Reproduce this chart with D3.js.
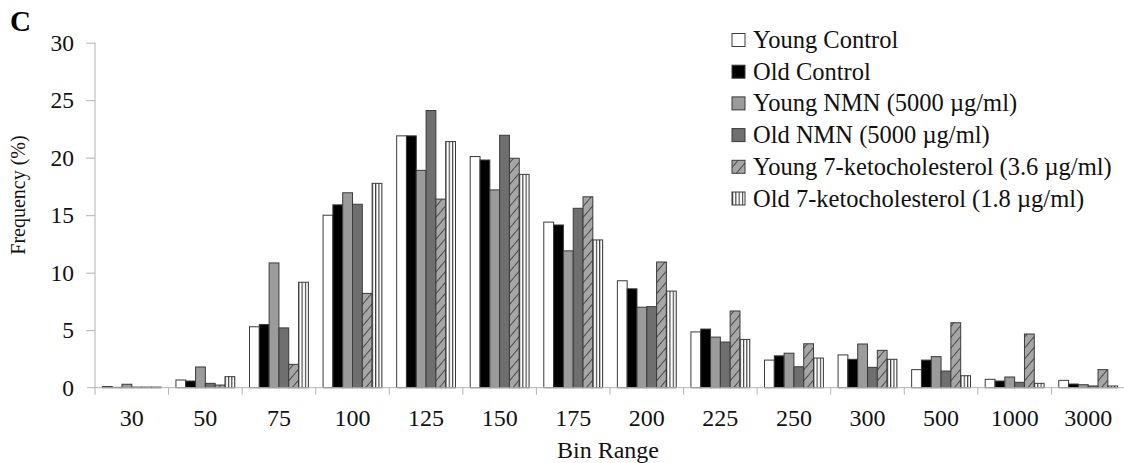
<!DOCTYPE html>
<html lang="en">
<meta charset="utf-8">
<head>
    <title>Bin Range Frequency</title>
    <script src="https://cdn.jsdelivr.net/npm/d3@7"></script>
    <style>
        body { margin: 0; background: #fff; }
        svg { display: block; font-family: "Liberation Serif", "DejaVu Serif", serif; }
        .axis line, .axis path { stroke: #b3b3b3; }
        .axis text { font-family: "Liberation Serif", serif; }
    </style>
</head>
<body>
<script>
    // Data
    const bins = ["30", "50", "75", "100", "125", "150", "175", "200", "225", "250", "300", "500", "1000", "3000"];
    const seriesNames = [
        "Young Control",
        "Old Control",
        "Young NMN (5000 µg/ml)",
        "Old NMN (5000 µg/ml)",
        "Young 7-ketocholesterol (3.6 µg/ml)",
        "Old 7-ketocholesterol (1.8 µg/ml)"
    ];
    const youngControl = [0.1, 0.67, 5.3, 15.0, 21.9, 20.1, 14.4, 9.3, 4.85, 2.4, 2.85, 1.57, 0.73, 0.64];
    const oldControl   = [0.03, 0.58, 5.5, 15.9, 21.9, 19.8, 14.15, 8.6, 5.1, 2.77, 2.47, 2.4, 0.58, 0.32];
    const youngNMN     = [0.3, 1.8, 10.85, 16.95, 18.9, 17.2, 11.9, 7.0, 4.4, 3.0, 3.8, 2.7, 0.93, 0.26];
    const oldNMN       = [0.05, 0.38, 5.2, 15.95, 24.1, 21.95, 15.6, 7.05, 3.97, 1.82, 1.77, 1.45, 0.47, 0.15];
    const young7k      = [0.05, 0.23, 2.03, 8.2, 16.4, 19.95, 16.6, 10.93, 6.67, 3.82, 3.25, 5.65, 4.67, 1.57];
    const old7k        = [0.05, 0.96, 9.17, 17.77, 21.4, 18.55, 12.85, 8.4, 4.2, 2.58, 2.47, 1.04, 0.38, 0.15];
    const yTicks = [0, 5, 10, 15, 20, 25, 30];

    const seriesValues = [youngControl, oldControl, youngNMN, oldNMN, young7k, old7k];
    const fills = ["#ffffff", "#000000", "#9b9b9b", "#6f6f6f", "url(#hatchDiag)", "url(#hatchVert)"];

    const W = 1124, H = 463;
    const plot = { left: 95, right: 1125, top: 42.7, bottom: 387.7 };

    const svg = d3.select("body").append("svg")
        .attr("width", W)
        .attr("height", H);

    // patterns
    const defs = svg.append("defs");
    const diag = defs.append("pattern")
        .attr("id", "hatchDiag")
        .attr("patternUnits", "userSpaceOnUse")
        .attr("width", 7).attr("height", 7)
        .attr("patternTransform", "rotate(40)");
    diag.append("rect").attr("width", 7).attr("height", 7).attr("fill", "#a6a6a6");
    diag.append("line").attr("x1", 0).attr("y1", 0).attr("x2", 0).attr("y2", 7)
        .attr("stroke", "#222").attr("stroke-width", 1.4);

    const vert = defs.append("pattern")
        .attr("id", "hatchVert")
        .attr("patternUnits", "userSpaceOnUse")
        .attr("width", 3.3).attr("height", 10);
    vert.append("rect").attr("width", 3.3).attr("height", 10).attr("fill", "#fff");
    vert.append("line").attr("x1", 0.6).attr("y1", 0).attr("x2", 0.6).attr("y2", 10)
        .attr("stroke", "#222").attr("stroke-width", 1);

    // scales
    const x = d3.scaleBand().domain(bins).range([plot.left, plot.right]).padding(0);
    const xs = d3.scaleBand().domain(d3.range(seriesNames.length))
        .range([0, x.bandwidth()]).paddingInner(0).paddingOuter(0.75);
    const y = d3.scaleLinear().domain([0, 30]).range([plot.bottom, plot.top]);

    // y axis
    const yAxis = svg.append("g")
        .attr("class", "axis")
        .attr("transform", `translate(${plot.left},0)`)
        .call(d3.axisLeft(y).tickValues(yTicks).tickSize(9).tickPadding(12));
    yAxis.attr("font-size", null).attr("font-family", null);
    yAxis.select(".domain").attr("stroke", "#b3b3b3").attr("d", `M0,${plot.top}V${plot.bottom}`);
    yAxis.selectAll("text")
        .style("font-size", "23.5px")
        .attr("fill", "#111");
    yAxis.selectAll(".tick").filter(d => d === 0).select("line").remove();

    // bars
    const groups = svg.append("g").selectAll("g")
        .data(bins)
        .join("g")
        .attr("transform", d => `translate(${x(d)},0)`);

    groups.selectAll("rect")
        .data((b, i) => seriesValues.map((vals, s) => ({ s, v: vals[i] })))
        .join("rect")
        .attr("x", d => xs(d.s))
        .attr("width", xs.bandwidth())
        .attr("y", d => y(d.v))
        .attr("height", d => y(0) - y(d.v))
        .attr("fill", d => fills[d.s])
        .attr("stroke", "#3a3a3a")
        .attr("stroke-width", 1);

    // x axis
    const xAxis = svg.append("g").attr("class", "axis");
    xAxis.append("line")
        .attr("x1", plot.left - 8).attr("x2", plot.right)
        .attr("y1", plot.bottom).attr("y2", plot.bottom)
        .attr("stroke", "#b3b3b3");
    xAxis.selectAll(".xtick")
        .data(bins)
        .join("line")
        .attr("class", "xtick")
        .attr("x1", d => x(d)).attr("x2", d => x(d))
        .attr("y1", plot.bottom).attr("y2", plot.bottom + 7)
        .attr("stroke", "#b3b3b3");
    xAxis.selectAll(".xlabel")
        .data(bins)
        .join("text")
        .attr("class", "xlabel")
        .attr("x", d => x(d) + x.bandwidth() / 2)
        .attr("y", 426)
        .attr("text-anchor", "middle")
        .style("font-size", "24px")
        .attr("fill", "#111")
        .text(d => d);

    // titles
    svg.append("text")
        .attr("x", 608).attr("y", 458)
        .attr("text-anchor", "middle")
        .attr("font-size", 24)
        .attr("fill", "#111")
        .text("Bin Range");

    svg.append("text")
        .attr("transform", "translate(25,195) rotate(-90)")
        .attr("text-anchor", "middle")
        .attr("font-size", 20)
        .attr("fill", "#111")
        .text("Frequency (%)");

    svg.append("text")
        .attr("x", 10).attr("y", 31)
        .attr("font-size", 29)
        .attr("font-weight", "bold")
        .attr("fill", "#000")
        .text("C");

    // legend
    const legend = svg.append("g").attr("transform", "translate(732,40)");
    const rows = legend.selectAll("g")
        .data(seriesNames)
        .join("g")
        .attr("transform", (d, i) => `translate(0,${i * 31.7})`);
    rows.append("rect")
        .attr("x", 0).attr("y", -6.5)
        .attr("width", 13).attr("height", 13)
        .attr("fill", (d, i) => fills[i])
        .attr("stroke", "#3a3a3a");
    rows.append("text")
        .attr("x", 21).attr("y", 8)
        .attr("font-size", 24.5)
        .attr("fill", "#111")
        .text(d => d);
</script>
</body>
</html>
